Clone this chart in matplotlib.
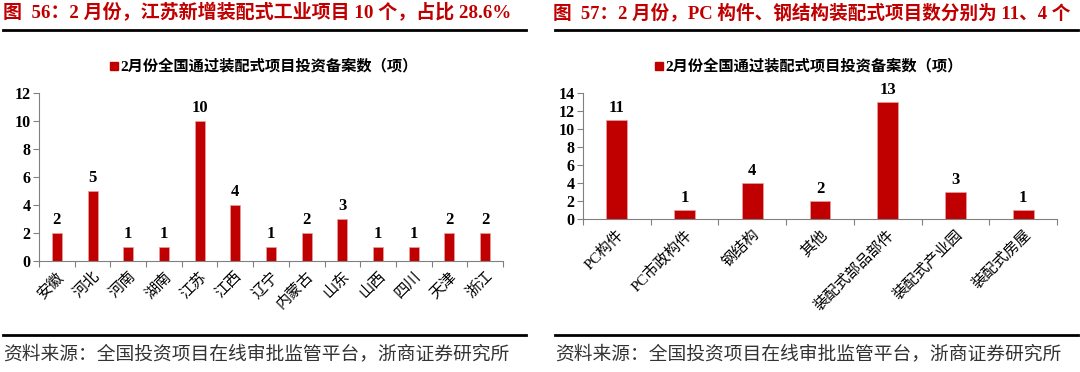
import matplotlib
matplotlib.use('Agg')
import matplotlib.pyplot as plt
from matplotlib.lines import Line2D
from matplotlib.patches import Rectangle

plt.rcParams['font.family'] = ['Liberation Serif', 'Noto Sans CJK SC', 'DejaVu Sans']

RED = '#C00000'
W, H = 1080, 372

# left panel data
provinces = ['安徽', '河北', '河南', '湖南', '江苏', '江西', '辽宁', '内蒙古', '山东', '山西', '四川', '天津', '浙江']
prov_counts = [2, 5, 1, 1, 10, 4, 1, 2, 3, 1, 1, 2, 2]

# right panel data
types = ['PC构件', 'PC市政构件', '钢结构', '其他', '装配式部品部件', '装配式产业园', '装配式房屋']
type_counts = [11, 1, 4, 2, 13, 3, 1]

legend_label = '2月份全国通过装配式项目投资备案数（项）'
titles = ['图  56：2 月份，江苏新增装配式工业项目 10 个，占比 28.6%',
          '图  57：2 月份，PC 构件、钢结构装配式项目数分别为 11、4 个']
source = '资料来源：全国投资项目在线审批监管平台，浙商证券研究所'

fig = plt.figure(figsize=(W / 100, H / 100), dpi=100)


def px_axes(x0, x1, y_top, y_bot):
    return fig.add_axes([x0 / W, 1 - y_bot / H, (x1 - x0) / W, (y_bot - y_top) / H])


def hline(x0, x1, y):
    fig.add_artist(Line2D([x0 / W, x1 / W], [1 - y / H, 1 - y / H], color='black', lw=2,
                          transform=fig.transFigure))


def bar_panel(ax, cats, vals, ymax, width):
    x = range(len(cats))
    ax.bar(x, vals, width=width, color=RED, edgecolor='#E8A0A0', linewidth=0.5, zorder=2)
    for xi, v in zip(x, vals):
        ax.text(xi, v + ymax * 0.03, str(v), ha='center', va='bottom', fontsize=12,
                fontweight='bold', family='Liberation Serif')
    ax.set_xlim(-0.5, len(cats) - 0.5)
    ax.set_ylim(0, ymax)
    ax.set_yticks(range(0, ymax + 1, 2))
    ax.set_yticklabels([str(t) for t in range(0, ymax + 1, 2)], fontsize=11.5, fontweight='bold')
    ax.set_xticks([i + 0.5 for i in range(-1, len(cats))], minor=False)
    ax.set_xticklabels([])
    ax.set_xticks(list(x), minor=True)
    ax.set_xticklabels(cats, minor=True, rotation=45, ha='right', rotation_mode='anchor',
                       fontsize=11, family=['Liberation Serif', 'Noto Sans CJK SC'])
    ax.tick_params(axis='x', which='minor', length=0, pad=6)
    ax.tick_params(axis='x', which='major', length=4, width=0.8, color='#808080')
    ax.tick_params(axis='y', length=4, width=0.8, color='#808080', pad=2)
    for s in ['top', 'right']:
        ax.spines[s].set_visible(False)
    for s in ['left', 'bottom']:
        ax.spines[s].set_color('#808080')
        ax.spines[s].set_linewidth(0.8)


ax1 = px_axes(39, 503, 93, 261)
bar_panel(ax1, provinces, prov_counts, 12, 0.28)
ax2 = px_axes(583, 1057, 93, 219)
bar_panel(ax2, types, type_counts, 14, 0.31)

# titles and rules
fig.text(3 / W, 1 - 13 / H, titles[0], color=RED, fontsize=13.7, fontweight='bold', va='center', ha='left')
fig.text(553 / W, 1 - 13 / H, titles[1], color=RED, fontsize=13.4, fontweight='bold', va='center', ha='left')
hline(3, 526, 30)
hline(555, 1078, 30)
hline(3, 526, 335)
hline(555, 1078, 335)

# legends
for mx in [110, 655]:
    fig.add_artist(Rectangle((mx / W, 1 - 70 / H), 8 / W, 8 / H, color=RED,
                             transform=fig.transFigure))
    fig.text((mx + 10) / W, 1 - 66 / H, legend_label, fontsize=11, fontweight='bold',
             va='center', ha='left')

fig.text(3 / W, 1 - 354 / H, source, fontsize=13.5, va='center', ha='left', color='#333333',
         family=['Noto Sans CJK SC'])
fig.text(555 / W, 1 - 354 / H, source, fontsize=13.5, va='center', ha='left', color='#333333',
         family=['Noto Sans CJK SC'])

fig.savefig('out.png', dpi=100)
